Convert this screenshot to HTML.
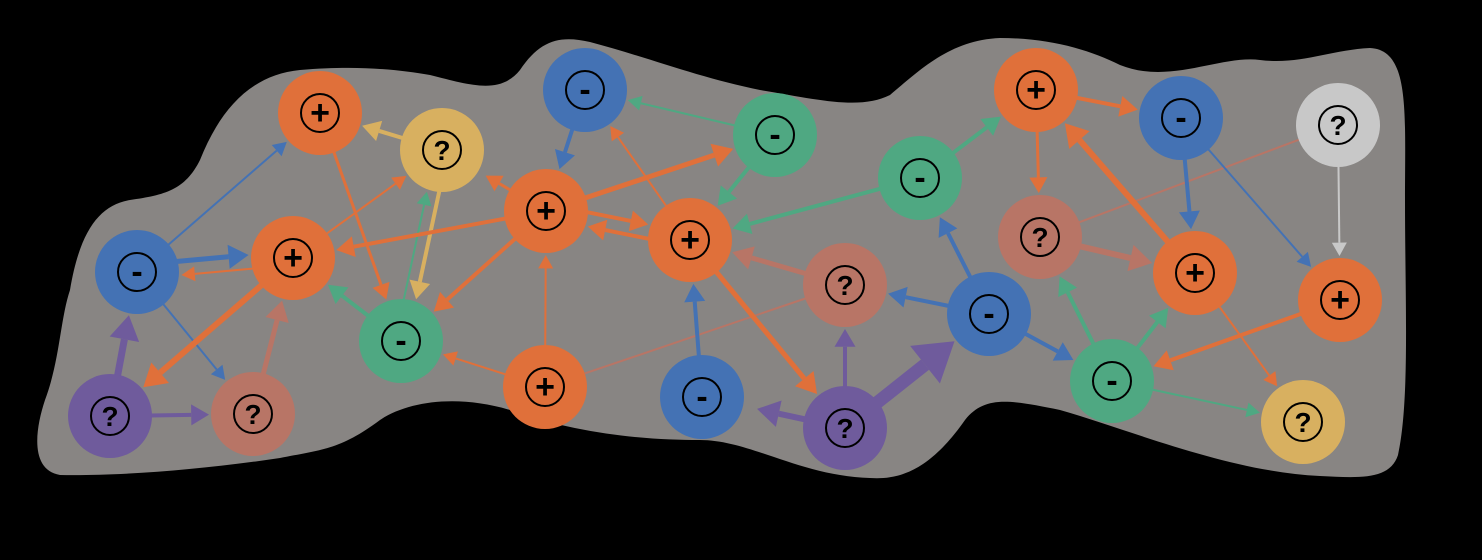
<!DOCTYPE html>
<html><head><meta charset="utf-8"><style>
html,body{margin:0;padding:0;background:#000;width:1482px;height:560px;overflow:hidden}
svg{display:block}
text{font-family:"Liberation Sans",sans-serif;font-weight:bold;fill:#000}
</style></head><body>
<svg id="s" width="1482" height="560" viewBox="0 0 1482 560" xmlns="http://www.w3.org/2000/svg">
<path d="M60,475 C30,470 35,430 45,400 C60,360 60,320 70,290 C80,230 100,205 130,200 C165,195 185,190 200,160 C220,110 250,75 300,70 C360,65 400,70 430,75 C470,85 500,95 520,70 C540,40 560,35 590,42 C650,58 700,78 760,90 C820,100 860,110 890,95 C920,70 950,40 1000,38 C1050,38 1090,50 1120,65 C1170,85 1220,55 1260,60 C1300,65 1330,50 1370,48 C1410,50 1405,110 1405,200 C1405,300 1410,400 1398,455 C1390,480 1360,478 1320,476 C1230,472 1130,430 1060,410 C1010,400 985,395 965,420 C930,470 900,480 870,478 C800,476 750,440 700,440 C650,440 580,435 510,410 C460,395 410,400 380,420 C340,450 320,450 280,458 C200,470 120,476 60,475 Z" fill="#888583"/>
<g id="e"></g><g id="n"></g>
</svg>
<script>
var C={b:"#4472b4",o:"#e0703a",y:"#d8b060",g:"#4fa882",p:"#6f5b9c",s:"#b87566",w:"#c8c8c8"};
var N=[null,
[137,272,"b","-"],[320,113,"o","+"],[442,150,"y","?"],[293,258,"o","+"],[401,341,"g","-"],
[110,416,"p","?"],[253,414,"s","?"],[585,90,"b","-"],[775,135,"g","-"],[546,211,"o","+"],
[690,240,"o","+"],[545,387,"o","+"],[702,397,"b","-"],[845,285,"s","?"],[845,428,"p","?"],
[920,178,"g","-"],[989,314,"b","-"],[1036,90,"o","+"],[1040,237,"s","?"],[1181,118,"b","-"],
[1195,273,"o","+"],[1112,381,"g","-"],[1338,125,"w","?"],[1340,300,"o","+"],[1303,422,"y","?"]];
// from,to,color,width,shortLen,noHead,offset
var E=[
[1,2,"b",2],[1,4,"b",5,0,0,-7],[4,1,"o",2,0,0,-7],[1,7,"b",2],[6,1,"p",7],[6,7,"p",4],[7,4,"s",5],[4,6,"o",6],
[3,2,"y",4],[3,5,"y",4,0,0,-6],[2,5,"o",3],[4,3,"o",2],[5,3,"g",2,0,0,-6],[5,4,"g",4],[10,4,"o",4],[10,5,"o",4],
[10,9,"o",5],[10,11,"o",4,0,0,-7],[11,10,"o",4,0,0,-7],[11,8,"o",2],[10,3,"o",3,30],[8,10,"b",4],[9,8,"g",2],
[9,11,"g",4],[16,11,"g",4],[12,10,"o",2],[12,5,"o",2],[14,12,"s",2,0,1],[14,11,"s",5],[11,15,"o",5],
[13,11,"b",4],[15,14,"p",4],[15,13,"p",6,50],[15,17,"p",13],[17,14,"b",4],[17,16,"b",4],[17,22,"b",4],
[16,18,"g",4],[18,19,"o",3],[18,20,"o",4],[19,21,"s",6],[19,23,"s",2,0,1],[21,18,"o",6],[20,21,"b",4],
[20,24,"b",2],[23,24,"w",2],[24,22,"o",4],[22,19,"g",4],[22,21,"g",4],[22,25,"g",2],[21,25,"o",2]];
var ns="http://www.w3.org/2000/svg",eg=document.getElementById("e"),ng=document.getElementById("n");
function el(t,a,p){var e=document.createElementNS(ns,t);for(var k in a)e.setAttribute(k,a[k]);p.appendChild(e);return e;}
E.forEach(function(d){var a=N[d[0]],b=N[d[1]],w=d[3],col=C[d[2]],off=d[6]||0;
var dx=b[0]-a[0],dy=b[1]-a[1],L=Math.hypot(dx,dy),ux=dx/L,uy=dy/L,px=-uy*off,py=ux*off;
var sx=a[0]+ux*40+px,sy=a[1]+uy*40+py,ex,ey;
if(d[4]){ex=sx+ux*d[4];ey=sy+uy*d[4];}else{ex=b[0]-ux*44+px;ey=b[1]-uy*44+py;}
var hl=w*2.2+9,hw=w*1.5+4.5;
if(d[5]){el("line",{x1:sx,y1:sy,x2:b[0]-ux*42,y2:b[1]-uy*42,stroke:col,"stroke-width":w},eg);return;}
var bx=ex-ux*hl,by=ey-uy*hl;
el("line",{x1:sx,y1:sy,x2:bx,y2:by,stroke:col,"stroke-width":w},eg);
el("polygon",{points:ex+","+ey+" "+(bx-uy*hw)+","+(by+ux*hw)+" "+(bx+uy*hw)+","+(by-ux*hw),fill:col},eg);
});
N.forEach(function(n){if(!n)return;
el("circle",{cx:n[0],cy:n[1],r:42,fill:C[n[2]]},ng);
el("circle",{cx:n[0],cy:n[1],r:19,fill:"none",stroke:"#000","stroke-width":2},ng);
var t=el("text",{x:n[0],y:n[1]+(n[3]=="?"?10:11),"text-anchor":"middle","font-size":n[3]=="?"?28:34},ng);
t.textContent=n[3];});
</script>
</body></html>
